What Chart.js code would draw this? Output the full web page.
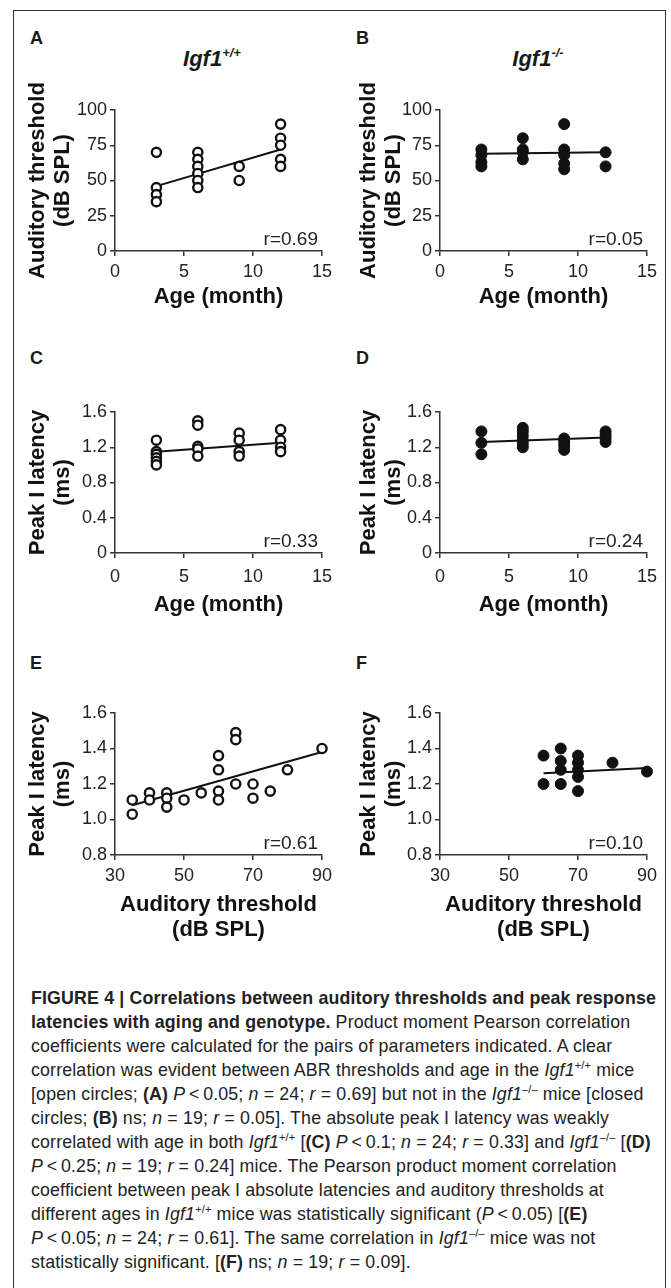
<!DOCTYPE html>
<html>
<head>
<meta charset="utf-8">
<script src="https://cdn.jsdelivr.net/npm/chart.js@4.4.0/dist/chart.umd.min.js"></script>
<style>
  html, body { margin: 0; padding: 0; background: #fff; }
  body { width: 671px; height: 1288px; position: relative; overflow: hidden;
         font-family: "Liberation Sans", Arial, sans-serif; color: #1a1a1a; }
  .frame { position: absolute; left: 13px; top: 10px; width: 653px; height: 1320px;
           border: 1.5px solid #333; box-sizing: border-box; }
  canvas { position: absolute; }
  .lbl { position: absolute; font-weight: bold; font-size: 18px; line-height: 22px; }
  .geno { position: absolute; font-weight: bold; font-style: italic; font-size: 22px;
          line-height: 26px; transform: translateX(-50%); white-space: nowrap; }
  .geno sup { font-size: 13px; vertical-align: 9px; line-height: 0; }
  .caption { position: absolute; left: 31px; top: 986px; font-size: 17.8px; line-height: 24px;
             color: #222; font-family: "Liberation Sans", Arial, sans-serif; letter-spacing: 0.15px; }
  .caption div { white-space: nowrap; }
  .caption sup { font-size: 11px; vertical-align: 7px; line-height: 0; }
</style>
</head>
<body>
<div class="frame"></div>

<div class="lbl" style="left:30px;top:27px">A</div>
<div class="lbl" style="left:356px;top:27px">B</div>
<div class="lbl" style="left:30px;top:347px">C</div>
<div class="lbl" style="left:356px;top:347px">D</div>
<div class="lbl" style="left:30px;top:652px">E</div>
<div class="lbl" style="left:356px;top:652px">F</div>

<div class="geno" style="left:212px;top:46px">Igf1<sup>+/+</sup></div>
<div class="geno" style="left:538px;top:46px">Igf1<sup>-/-</sup></div>

<canvas id="cA" width="322" height="240" style="left:14px;top:70px"></canvas>
<canvas id="cB" width="316" height="240" style="left:345px;top:70px"></canvas>
<canvas id="cC" width="322" height="246" style="left:14px;top:372px"></canvas>
<canvas id="cD" width="316" height="246" style="left:345px;top:372px"></canvas>
<canvas id="cE" width="322" height="270" style="left:14px;top:673px"></canvas>
<canvas id="cF" width="316" height="270" style="left:345px;top:673px"></canvas>

<div class="caption">
  <div><b>FIGURE 4 | Correlations between auditory thresholds and peak response</b></div>
  <div><b>latencies with aging and genotype.</b> Product moment Pearson correlation</div>
  <div>coefficients were calculated for the pairs of parameters indicated. A clear</div>
  <div>correlation was evident between ABR thresholds and age in the <i>Igf1</i><sup>+/+</sup> mice</div>
  <div>[open circles; <b>(A)</b> <i>P</i>&thinsp;&lt;&thinsp;0.05; <i>n</i> = 24; <i>r</i> = 0.69] but not in the <i>Igf1</i><sup>–/–</sup> mice [closed</div>
  <div>circles; <b>(B)</b> ns; <i>n</i> = 19; <i>r</i> = 0.05]. The absolute peak I latency was weakly</div>
  <div>correlated with age in both <i>Igf1</i><sup>+/+</sup> [<b>(C)</b> <i>P</i>&thinsp;&lt;&thinsp;0.1; <i>n</i> = 24; <i>r</i> = 0.33] and <i>Igf1</i><sup>–/–</sup> [<b>(D)</b></div>
  <div><i>P</i>&thinsp;&lt;&thinsp;0.25; <i>n</i> = 19; <i>r</i> = 0.24] mice. The Pearson product moment correlation</div>
  <div>coefficient between peak I absolute latencies and auditory thresholds at</div>
  <div>different ages in <i>Igf1</i><sup>+/+</sup> mice was statistically significant (<i>P</i>&thinsp;&lt;&thinsp;0.05) [<b>(E)</b></div>
  <div><i>P</i>&thinsp;&lt;&thinsp;0.05; <i>n</i> = 24; <i>r</i> = 0.61]. The same correlation in <i>Igf1</i><sup>–/–</sup> mice was not</div>
  <div>statistically significant. [<b>(F)</b> ns; <i>n</i> = 19; <i>r</i> = 0.09].</div>
</div>

<script>
// tick values
const ageTicks = [0, 5, 10, 15];
const thrTicks = [0, 25, 50, 75, 100];
const latTicks = [0, 0.4, 0.8, 1.2, 1.6];
const thrTicksE = [30, 50, 70, 90];
const latTicksE = [0.8, 1.0, 1.2, 1.4, 1.6];

// A: Igf1+/+ threshold vs age
const ageA = [3, 3, 3, 3, 6, 6, 6, 6, 6, 6, 9, 9, 12, 12, 12, 12, 12];
const thrA = [70, 45, 40, 35, 70, 65, 60, 55, 50, 45, 60, 50, 90, 80, 75, 65, 60];
const fitAx = [3, 12];
const fitAy = [46, 72];

// B: Igf1-/- threshold vs age
const ageB = [3, 3, 3, 3, 6, 6, 6, 6, 9, 9, 9, 9, 9, 12, 12];
const thrB = [72, 68, 63, 60, 80, 72, 70, 65, 90, 72, 68, 62, 58, 70, 60];
const fitBx = [3, 12];
const fitBy = [69, 70];

// C: Igf1+/+ latency vs age
const ageC = [3, 3, 3, 3, 3, 3, 6, 6, 6, 6, 6, 9, 9, 9, 9, 12, 12, 12, 12];
const latC = [1.28, 1.15, 1.12, 1.08, 1.04, 1.00, 1.50, 1.45, 1.21, 1.18, 1.10, 1.36, 1.28, 1.15, 1.10, 1.40, 1.28, 1.20, 1.15];
const fitCx = [3, 12];
const fitCy = [1.15, 1.25];

// D: Igf1-/- latency vs age
const ageD = [3, 3, 3, 6, 6, 6, 6, 6, 6, 9, 9, 9, 9, 12, 12, 12, 12];
const latD = [1.38, 1.25, 1.12, 1.42, 1.38, 1.33, 1.28, 1.24, 1.20, 1.30, 1.26, 1.22, 1.17, 1.38, 1.34, 1.30, 1.26];
const fitDx = [3, 12];
const fitDy = [1.26, 1.31];

// E: Igf1+/+ latency vs threshold
const thrE = [35, 35, 40, 40, 45, 45, 45, 50, 55, 60, 60, 60, 60, 65, 65, 65, 70, 70, 75, 80, 90];
const latE = [1.11, 1.03, 1.15, 1.11, 1.15, 1.12, 1.07, 1.11, 1.15, 1.36, 1.28, 1.16, 1.11, 1.49, 1.45, 1.20, 1.20, 1.12, 1.16, 1.28, 1.40];
const fitEx = [35, 90];
const fitEy = [1.08, 1.38];

// F: Igf1-/- latency vs threshold
const thrF = [60, 60, 65, 65, 65, 65, 70, 70, 70, 70, 70, 80, 90];
const latF = [1.36, 1.20, 1.40, 1.33, 1.28, 1.20, 1.36, 1.32, 1.28, 1.24, 1.16, 1.32, 1.27];
const fitFx = [60, 90];
const fitFy = [1.26, 1.29];

Chart.defaults.font.family = '"Liberation Sans", Arial, sans-serif';
Chart.defaults.color = '#222';

function toPts(xs, ys) {
    return xs.map((x, i) => ({ x: x, y: ys[i] }));
}

// r value in the lower right corner of the plot
const rLabelPlugin = {
    id: 'rLabel',
    afterDatasetsDraw(chart, args, opts) {
        const { ctx, chartArea } = chart;
        ctx.save();
        ctx.font = '19px "Liberation Sans", Arial, sans-serif';
        ctx.fillStyle = '#222';
        ctx.textAlign = 'right';
        ctx.textBaseline = 'middle';
        ctx.fillText(opts.text, chartArea.right - 4, chartArea.bottom - 11);
        ctx.restore();
    },
};

function makePanel(id, p) {
    const filled = p.filled;
    new Chart(document.getElementById(id), {
        type: 'scatter',
        data: {
            datasets: [
                {
                    data: toPts(p.xs, p.ys),
                    pointStyle: 'circle',
                    pointRadius: filled ? 5.5 : 4.6,
                    pointBorderWidth: filled ? 1 : 2.4,
                    pointBackgroundColor: filled ? '#111' : '#fff',
                    pointBorderColor: '#111',
                    clip: false,
                },
                {
                    data: toPts(p.fx, p.fy),
                    showLine: true,
                    pointRadius: 0,
                    borderColor: '#111',
                    borderWidth: 2,
                    clip: false,
                },
            ],
        },
        options: {
            responsive: false,
            animation: false,
            devicePixelRatio: 1,
            layout: { padding: { top: 40, right: 14, left: 0, bottom: 0 } },
            plugins: {
                legend: { display: false },
                tooltip: { enabled: false },
                rLabel: { text: p.r },
            },
            scales: {
                x: {
                    min: p.xTicks[0],
                    max: p.xTicks[p.xTicks.length - 1],
                    afterBuildTicks: (s) => { s.ticks = p.xTicks.map((v) => ({ value: v })); },
                    afterFit: (s) => {
                        s.height = p.xh;
                        s.paddingLeft = 0; s.paddingRight = 0;
                    },
                    ticks: { font: { size: 18 }, color: '#222', padding: p.tp, maxRotation: 0, autoSkip: false },
                    grid: { drawOnChartArea: false, drawTicks: true, tickLength: 5, color: '#333', lineWidth: 1.5 },
                    border: { display: true, color: '#333', width: 1.5 },
                    title: {
                        display: true,
                        text: p.xTitle,
                        color: '#111',
                        font: { size: 22, weight: 'bold', lineHeight: 1.15 },
                        padding: { top: 0, bottom: 0 },
                    },
                },
                y: {
                    min: p.yTicks[0],
                    max: p.yTicks[p.yTicks.length - 1],
                    afterBuildTicks: (s) => { s.ticks = p.yTicks.map((v) => ({ value: v })); },
                    afterFit: (s) => {
                        s.width = p.yw;
                        s.paddingTop = 0; s.paddingBottom = 0;
                    },
                    ticks: {
                        font: { size: 18 }, color: '#222', padding: 3, autoSkip: false,
                        callback: (v) => p.fmt(v),
                    },
                    grid: { drawOnChartArea: false, drawTicks: true, tickLength: 5, color: '#333', lineWidth: 1.5 },
                    border: { display: true, color: '#333', width: 1.5 },
                    title: {
                        display: true,
                        text: p.yTitle,
                        color: '#111',
                        font: { size: 22, weight: 'bold', lineHeight: 1.15 },
                        padding: { top: 11, bottom: 0 },
                    },
                },
            },
        },
        plugins: [rLabelPlugin],
    });
}

const fmtInt = (v) => String(v);
const fmtLat = (v) => (v === 0 ? '0' : v.toFixed(1));

makePanel('cA', { xs: ageA, ys: thrA, fx: fitAx, fy: fitAy, filled: false, r: 'r=0.69',
    xTicks: ageTicks, yTicks: thrTicks, fmt: fmtInt, yw: 101, xh: 59, tp: 5,
    xTitle: 'Age (month)', yTitle: ['Auditory threshold', '(dB SPL)'] });
makePanel('cB', { xs: ageB, ys: thrB, fx: fitBx, fy: fitBy, filled: true, r: 'r=0.05',
    xTicks: ageTicks, yTicks: thrTicks, fmt: fmtInt, yw: 95, xh: 59, tp: 5,
    xTitle: 'Age (month)', yTitle: ['Auditory threshold', '(dB SPL)'] });
makePanel('cC', { xs: ageC, ys: latC, fx: fitCx, fy: fitCy, filled: false, r: 'r=0.33',
    xTicks: ageTicks, yTicks: latTicks, fmt: fmtLat, yw: 101, xh: 65, tp: 8,
    xTitle: 'Age (month)', yTitle: ['Peak I latency', '(ms)'] });
makePanel('cD', { xs: ageD, ys: latD, fx: fitDx, fy: fitDy, filled: true, r: 'r=0.24',
    xTicks: ageTicks, yTicks: latTicks, fmt: fmtLat, yw: 95, xh: 65, tp: 8,
    xTitle: 'Age (month)', yTitle: ['Peak I latency', '(ms)'] });
makePanel('cE', { xs: thrE, ys: latE, fx: fitEx, fy: fitEy, filled: false, r: 'r=0.61',
    xTicks: thrTicksE, yTicks: latTicksE, fmt: fmtLat, yw: 101, xh: 88, tp: 5,
    xTitle: ['Auditory threshold', '(dB SPL)'], yTitle: ['Peak I latency', '(ms)'] });
makePanel('cF', { xs: thrF, ys: latF, fx: fitFx, fy: fitFy, filled: true, r: 'r=0.10',
    xTicks: thrTicksE, yTicks: latTicksE, fmt: fmtLat, yw: 95, xh: 88, tp: 5,
    xTitle: ['Auditory threshold', '(dB SPL)'], yTitle: ['Peak I latency', '(ms)'] });
</script>
</body>
</html>
